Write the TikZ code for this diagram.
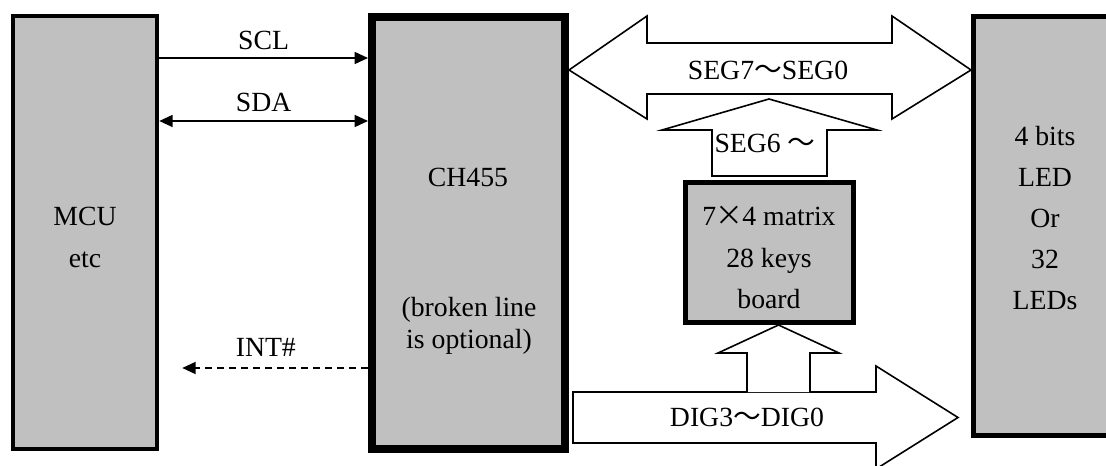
\documentclass[tikz,border=0pt]{standalone}
\usepackage{fontspec}
\setmainfont{Liberation Serif}
\newfontfamily\cjk{Noto Sans CJK SC}
\usetikzlibrary{arrows.meta}
\usetikzlibrary{calc}
\usetikzlibrary{fit}
\usetikzlibrary{positioning}
\definecolor{boxgray}{RGB}{192,192,192}
\tikzset{
	box/.style={draw=black, fill=boxgray, line width=3.4pt, inner sep=0pt},
	txt/.style={inner sep=0pt, align=center, font=\fontsize{20.8}{30.9}\selectfont},
	lbl/.style={inner sep=0pt, font=\fontsize{20.8}{25}\selectfont},
	sig/.style={line width=1.1pt},
	bus/.style={draw=black, fill=white, line width=1.2pt, line join=miter},
	tip/.style={-{Triangle[length=10pt,width=9pt]}}
}

\begin{document}
\begin{tikzpicture}[x=0.75pt,y=-0.75pt]
	\clip (0,0) rectangle (1106,466);
	\fill[white] (0,0) rectangle (1106,466);

	% boxes
	\node[box, fit={(13,16) (157,449)}] (mcu) {};
	\node[box, line width=6pt, fit={(372,17) (565,449)}] (ch) {};
	\node[box, line width=3.75pt, fit={(685,182.5) (853,322.5)}] (kbd) {};
	\node[box, line width=3.75pt, fit={(973.5,16.5) (1120,435)}] (led) {};

	\node[txt] (mcutxt) at (85,237.5) {MCU\\etc};
	\node[txt] (chname) at (468,177) {CH455};
	\node[txt, font=\fontsize{20.8}{24}\selectfont] (chnote) at (469,326) {(broken line\\is optional)};
	\node[txt] (kbdtxt) at (769,257.5) {7\makebox[0.94em]{\cjk ×}4 matrix\\28 keys\\board};
	\node[txt] (ledtxt) at (1045,218) {4 bits\\LED\\Or\\32\\LEDs};

	% I2C lines
	\draw[sig, tip] (mcu.east |- 0,58) -- node[lbl, above=5.5pt] (scl) {SCL} (ch.west |- 0,58);
	\draw[sig, {Triangle[length=10pt,width=9pt]}-{Triangle[length=10pt,width=9pt]}] (mcu.east |- 0,121)
		-- node[lbl, above=6pt] (sda) {SDA} (ch.west |- 0,121);
	\coordinate (intend) at ($(mcu.east |- 0,368)+(23,0)$);
	\draw[sig, dash pattern=on 5.25pt off 3.75pt, tip] (ch.west |- intend)
		-- node[lbl, above=8pt, xshift=-7pt] (int) {INT\#} (intend);

	% segment bus
	\draw[bus] (ch.east |- 0,70) -- ++(78,-54) -- ++(0,27) -- ++(245,0) -- ++(0,-27)
		-- (led.west |- 0,70) -- ++(-79,49) -- ++(0,-25) -- ++(-245,0) -- ++(0,25) -- cycle;
	\node[lbl] (seglbl) at (768,70) {SEG7{\cjk ～}SEG0};

	\draw[bus] ($(kbd.north)+(-57,-4)$) -- ++(0,-46) -- ++(-50,0) -- (kbd.north |- 0,99)
		-- ++(108,31) -- ++(-50,0) -- ++(0,46) -- cycle;
	\node[lbl] (seg6) at (765,143) {SEG6 {\cjk ～}};

	% digit bus
	\coordinate (digtip) at ($(led.west |- 0,417.5)+(-13,0)$);
	\draw[bus] ($(ch.east |- 0,392)+(4,0)$) -- (876,392) -- (876,366) -- (digtip)
		-- (876,469) -- (876,443) -- ($(ch.east |- 0,443)+(4,0)$) -- cycle;
	\draw[bus] (747,392) -- (747,353) -- (718,353) -- ($(kbd.south)+(9.5,0)$)
		-- (839,353) -- (810,353) -- (810,392);
	\node[lbl] (diglbl) at (747,417) {DIG3{\cjk ～}DIG0};
\end{tikzpicture}
\end{document}
